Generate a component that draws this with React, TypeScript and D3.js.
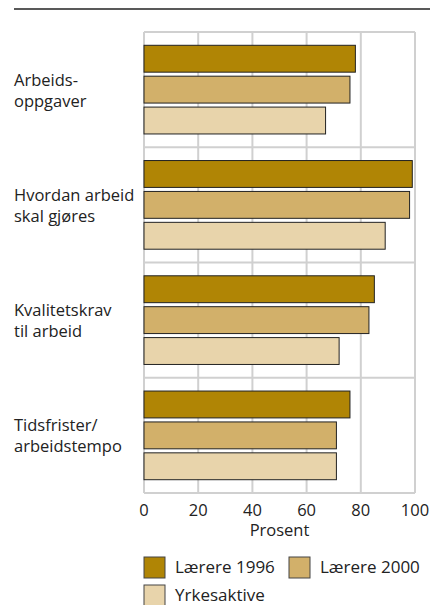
import React from "react";
import * as d3 from "d3";

const categories = [
  ["Arbeids-", "oppgaver"],
  ["Hvordan arbeid", "skal gjøres"],
  ["Kvalitetskrav", "til arbeid"],
  ["Tidsfrister/", "arbeidstempo"],
];
const seriesNames = ["Lærere 1996", "Lærere 2000", "Yrkesaktive"];
const laerere1996 = [78, 99, 85, 76];
const laerere2000 = [76, 98, 83, 71];
const yrkesaktive = [67, 89, 72, 71];
const xTicks = [0, 20, 40, 60, 80, 100];
const colors = ["#b08505", "#d2b06a", "#e8d4ab"];

export default function App() {
  const W = 430, H = 605;
  const x = d3.scaleLinear().domain([0, 100]).range([144, 415]);
  const yGroup = d3.scaleBand().domain(categories.map((_, i) => String(i))).range([32, 493]).padding(0);
  const series = [laerere1996, laerere2000, yrkesaktive];
  const yInner = d3.scaleBand().domain(["0", "1", "2"]).range([0, yGroup.bandwidth()]).paddingInner(0.13).paddingOuter(0.43);
  const font = "'Open Sans', 'Noto Sans', sans-serif";
  return (
    <svg width={W} height={H} style={{ position: "absolute", left: 0, top: 0, background: "#fff" }} fontFamily={font}>
      <line x1={14} x2={430} y1={9} y2={9} stroke="#222" strokeWidth={1.5} />
      {xTicks.map((t) => (
        <line key={"v" + t} x1={x(t)} x2={x(t)} y1={32} y2={493} stroke="#d0d0d0" strokeWidth={2} />
      ))}
      {categories.map((_, i) => (
        <line key={"h" + i} x1={144} x2={415} y1={yGroup(String(i))!} y2={yGroup(String(i))!} stroke="#d0d0d0" strokeWidth={2} />
      ))}
      <line x1={144} x2={415} y1={493} y2={493} stroke="#d0d0d0" strokeWidth={2} />
      {categories.map((c, i) => {
        const g0 = yGroup(String(i))!;
        return (
          <g key={"g" + i}>
            {series.map((s, j) => (
              <rect
                key={j}
                x={x(0)}
                y={g0 + yInner(String(j))!}
                width={x(s[i]) - x(0)}
                height={yInner.bandwidth()}
                fill={colors[j]}
                stroke="#222"
                strokeWidth={1}
              />
            ))}
            <text x={14} y={g0 + yGroup.bandwidth() / 2 - 4} fontSize={16.5} fill="#222">{c[0]}</text>
            <text x={14} y={g0 + yGroup.bandwidth() / 2 + 17} fontSize={16.5} fill="#222">{c[1]}</text>
          </g>
        );
      })}
      {xTicks.map((t) => (
        <text key={"t" + t} x={x(t)} y={516} fontSize={16.5} textAnchor="middle" fill="#222">{t}</text>
      ))}
      <text x={x(50)} y={536} fontSize={16.5} textAnchor="middle" fill="#222">Prosent</text>
      {seriesNames.map((n, j) => {
        const lx = j === 1 ? 289 : 144;
        const ly = j === 2 ? 585 : 557;
        return (
          <g key={"l" + j}>
            <rect x={lx} y={ly} width={21} height={21} fill={colors[j]} stroke="#444" strokeWidth={1} />
            <text x={lx + 31} y={ly + 16} fontSize={17} fill="#222">{n}</text>
          </g>
        );
      })}
    </svg>
  );
}
